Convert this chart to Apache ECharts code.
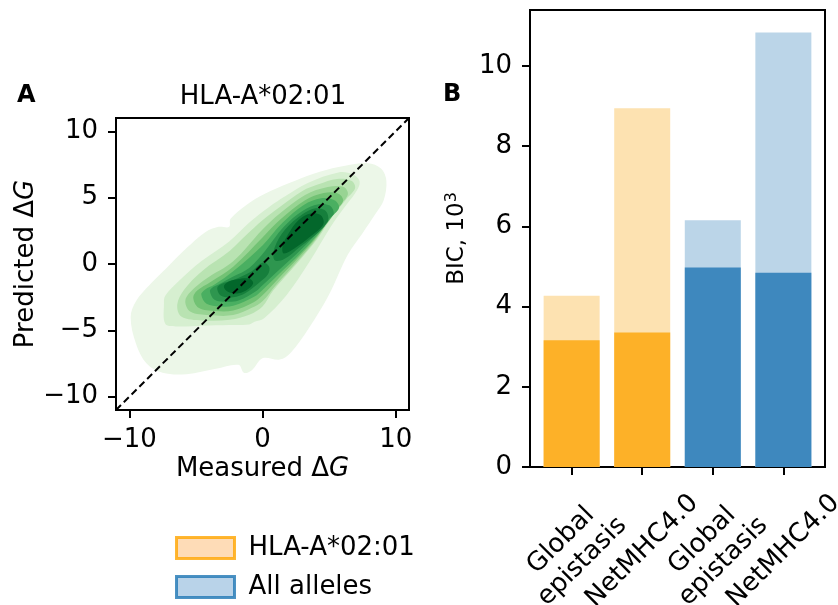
<!DOCTYPE html>
<html><head><meta charset="utf-8">
<script src="https://cdn.jsdelivr.net/npm/echarts@6/dist/echarts.min.js"></script>
<style>html,body{margin:0;padding:0;background:#fff}#c{width:838px;height:605px}</style>
</head><body><div id="c"></div>
<script>
const FONT = 'DejaVu Sans';
// ---------- Panel A data ----------
const rangeA = [-11, 11];
const xTicksA = [-10, 0, 10];
const yTicksA = [-10, -5, 0, 5, 10];
const diagonal = [[-11, -11], [11, 11]];
// KDE contour outlines (data coords), outermost -> innermost
const contourL1 = [[-9.9,-4.0],[-9.5,-6.0],[-8.7,-7.5],[-7.5,-8.2],[-5.7,-8.3],[-3.5,-7.9],[-1.8,-7.6],[-1.4,-8.2],[-0.8,-8.0],[0.0,-7.1],[1.3,-7.2],[2.1,-6.7],[3.5,-4.8],[5.0,-2.3],[6.4,0.7],[7.5,2.3],[8.5,3.8],[9.1,4.8],[9.3,6.3],[8.9,7.2],[7.9,7.6],[6.2,7.4],[4.3,6.95],[2.5,6.3],[0.6,5.5],[-1.0,4.6],[-2.4,3.4],[-2.5,2.8],[-3.3,2.8],[-4.3,2.4],[-5.7,1.2],[-7.2,-0.3],[-8.5,-1.6],[-9.5,-2.8]];
const contourL2 = [[-7.4,-3.0],[-7.3,-4.5],[-6.5,-4.7],[-4.5,-4.65],[-2.5,-4.6],[-1.0,-4.55],[-0.6,-4.35],[0.1,-4.1],[1.8,-2.35],[3.55,0.2],[5.05,2.7],[6.1,4.2],[7.0,5.4],[7.3,6.2],[6.8,6.75],[5.7,6.9],[3.4,6.1],[1.7,5.1],[0.5,4.3],[-0.9,3.2],[-2.5,1.7],[-4.6,0.2],[-6.3,-1.3],[-7.3,-2.4]];
const contourL3 = [[-6.4,-3.05],[-6.1,-3.95],[-4.5,-4.25],[-2.45,-4.2],[-0.95,-3.8],[0.0,-3.2],[0.8,-2.0],[2.55,0.0],[4.05,1.8],[5.2,3.5],[6.3,4.9],[6.95,5.7],[6.7,6.25],[5.6,6.4],[4.2,6.0],[3.0,5.5],[1.3,4.3],[0.0,3.3],[-1.2,2.2],[-2.45,1.0],[-4.5,-0.5],[-5.9,-1.95]];
const contourL4 = [[-5.8,-2.8],[-5.4,-3.6],[-4.0,-3.85],[-2.2,-3.85],[-0.8,-3.3],[0.0,-2.8],[1.0,-1.6],[2.7,0.3],[4.1,2.0],[5.4,4.0],[6.4,5.2],[6.1,5.8],[4.9,5.8],[3.2,5.2],[1.3,3.8],[0.0,2.6],[-2.2,0.2],[-4.2,-1.1],[-5.4,-2.1]];
const contourL5 = [[-5.2,-2.55],[-4.8,-3.3],[-3.5,-3.55],[-2.2,-3.5],[-0.7,-2.9],[0.0,-2.35],[1.1,-1.2],[2.8,0.6],[4.2,2.2],[5.3,3.8],[6.05,4.75],[5.7,5.3],[4.6,5.35],[3.2,4.8],[1.4,3.4],[0.0,2.0],[-2.2,-0.2],[-3.9,-1.35],[-4.9,-2.0]];
const contourL6 = [[-4.6,-2.3],[-4.2,-3.0],[-3.2,-3.2],[-2.2,-3.15],[-0.6,-2.45],[0.0,-1.95],[1.2,-0.8],[2.9,0.85],[4.3,2.4],[5.2,3.55],[5.75,4.25],[5.4,4.8],[4.4,4.95],[3.1,4.45],[1.5,3.1],[0.0,1.4],[-2.2,-0.55],[-3.6,-1.55],[-4.35,-1.95]];
const contourL7 = [[-3.95,-2.05],[-3.6,-2.7],[-2.7,-2.85],[-1.8,-2.75],[-0.5,-2.05],[0.0,-1.6],[1.3,-0.4],[2.9,1.1],[4.3,2.55],[4.95,3.35],[5.35,3.8],[5.05,4.4],[4.2,4.5],[3.0,4.0],[1.6,2.8],[0.2,1.0],[-1.0,-0.3],[-2.2,-0.95],[-3.3,-1.55],[-3.8,-1.8]];
const contourL8a = [[-3.4,-1.8],[-3.1,-2.4],[-2.2,-2.5],[-1.3,-2.2],[-0.3,-1.45],[0.4,-0.8],[0.5,-0.2],[0.0,0.1],[-0.9,-0.6],[-2.2,-1.2],[-3.1,-1.5]];
const contourL8b = [[0.9,0.3],[1.6,0.35],[2.9,1.35],[4.2,2.4],[4.75,3.0],[4.95,3.35],[4.75,4.0],[4.0,4.2],[3.0,3.75],[1.7,2.6],[0.9,1.2]];
const contourL9a = [[-2.9,-1.7],[-2.6,-2.1],[-1.8,-2.2],[-1.1,-1.9],[-0.7,-1.45],[-1.0,-1.1],[-1.9,-1.15],[-2.6,-1.35]];
const contourL9b = [[1.6,0.8],[2.5,1.25],[3.5,2.0],[4.35,2.7],[4.6,3.15],[4.35,3.7],[3.6,3.8],[2.7,3.3],[1.9,2.2],[1.5,1.3]];
const contourLevelOf = [0, 1, 2, 3, 4, 5, 6, 7, 7, 8, 8];

// ---------- Panel B data ----------
const categoriesB = ['Global\nepistasis', 'NetMHC4.0', 'Global\nepistasis', 'NetMHC4.0'];
const bicTotal = [4.27, 8.94, 6.15, 10.83];
const bicLower = [3.16, 3.35, 4.97, 4.84];
const yTicksB = [0, 2, 4, 6, 8, 10];
const legendNames = ['HLA-A*02:01', 'All alleles'];

// ---------- styles ----------
const greens = ['#ecf7e8','#d6efd0','#b9e3b2','#98d493','#72c274','#4aaf61','#2e964f','#167f3c','#03672b'];
const lightCols = ['#fde2b1','#fde2b1','#bbd5e8','#bbd5e8'];
const darkCols = ['#fdb128','#fdb128','#3e88be','#3e88be'];

const contours = [contourL1, contourL2, contourL3, contourL4, contourL5, contourL6, contourL7, contourL8a, contourL8b, contourL9a, contourL9b];
const minus = v => (v < 0 ? '\u2212' + Math.abs(v) : String(v));
const FS = 26;
const axisCommon = {
  axisLine: {show: true, onZero: false, lineStyle: {color: '#000', width: 2}},
  splitLine: {show: false},
};
const chart = echarts.init(document.getElementById('c'), null, {renderer: 'canvas'});
chart.setOption({
  animation: false,
  backgroundColor: '#fff',
  textStyle: {fontFamily: FONT, color: '#000'},
  grid: [
    {left: 116, top: 118, width: 293, height: 292, show: true, borderColor: '#000', borderWidth: 2, backgroundColor: 'transparent', containLabel: false, outerBoundsMode: 'none'},
    {left: 530, top: 10, width: 295, height: 457, show: true, borderColor: '#000', borderWidth: 2, backgroundColor: 'transparent', containLabel: false, outerBoundsMode: 'none'}
  ],
  xAxis: [
    Object.assign({}, axisCommon, {gridIndex: 0, type: 'value', min: rangeA[0], max: rangeA[1],
      axisTick: {show: true, length: 8, lineStyle: {color: '#000', width: 2}, customValues: xTicksA},
      axisLabel: {customValues: xTicksA, formatter: minus, fontSize: FS, color: '#000', fontFamily: FONT, margin: 17},
      name: 'Measured \u0394{i|G}', nameLocation: 'middle', nameGap: 46,
      nameTextStyle: {fontSize: FS, color: '#000', fontFamily: FONT, rich: {i: {fontStyle: 'italic', fontSize: FS, fontFamily: FONT}}}}),
    Object.assign({}, axisCommon, {gridIndex: 1, type: 'value', min: -0.59, max: 3.59,
      axisTick: {show: true, length: 8, lineStyle: {color: '#000', width: 2}, customValues: [0, 1, 2, 3]},
      axisLabel: {customValues: [0, 1, 2, 3], formatter: v => categoriesB[Math.round(v)], rotate: 45,
        align: 'center', verticalAlign: 'middle', margin: 84, fontSize: FS, lineHeight: 30, color: '#000', fontFamily: FONT}})
  ],
  yAxis: [
    Object.assign({}, axisCommon, {gridIndex: 0, type: 'value', min: rangeA[0], max: rangeA[1],
      axisTick: {show: true, length: 8, lineStyle: {color: '#000', width: 2}, customValues: yTicksA},
      axisLabel: {customValues: yTicksA, formatter: minus, fontSize: FS, color: '#000', fontFamily: FONT, margin: 18},
      name: 'Predicted \u0394{i|G}', nameLocation: 'middle', nameGap: 72,
      nameTextStyle: {fontSize: FS, color: '#000', fontFamily: FONT, rich: {i: {fontStyle: 'italic', fontSize: FS, fontFamily: FONT}}}}),
    Object.assign({}, axisCommon, {gridIndex: 1, type: 'value', min: 0, max: 11.39,
      axisTick: {show: true, length: 8, lineStyle: {color: '#000', width: 2}, customValues: yTicksB},
      axisLabel: {customValues: yTicksB, formatter: v => String(v), fontSize: FS, color: '#000', fontFamily: FONT, margin: 18},
      name: 'BIC, 10{sup|3}', nameLocation: 'middle', nameGap: 60,
      nameTextStyle: {fontSize: 23, color: '#000', fontFamily: FONT,
        rich: {sup: {fontSize: 16, fontFamily: FONT, verticalAlign: 'top', padding: [0, 0, 10, 0]}}}})
  ],
  legend: {
    orient: 'vertical', left: 170, top: 530, itemWidth: 58, itemHeight: 21, itemGap: 13,
    textStyle: {fontSize: FS, color: '#000', fontFamily: FONT, padding: [0, 0, 0, 9]},
    data: [
      {name: legendNames[0], icon: 'rect', itemStyle: {color: '#fed3a5', borderColor: '#ffa500', borderWidth: 3}},
      {name: legendNames[1], icon: 'rect', itemStyle: {color: '#a8c8e3', borderColor: '#1f77b4', borderWidth: 3}}
    ]
  },
  graphic: [
    {type: 'text', left: 17, top: 84, style: {text: 'A', font: 'bold 24px "DejaVu Sans"', fill: '#000'}},
    {type: 'text', left: 443, top: 83, style: {text: 'B', font: 'bold 24px "DejaVu Sans"', fill: '#000'}},
    {type: 'text', x: 263, y: 97, style: {text: 'HLA-A*02:01', font: FS + 'px "DejaVu Sans"', fill: '#000', align: 'center', verticalAlign: 'middle'}}
  ],
  series: [
    {type: 'custom', xAxisIndex: 0, yAxisIndex: 0, silent: true, clip: true,
      data: contours.map((p, i) => [p[0][0], p[0][1], i]),
      encode: {x: 0, y: 1},
      renderItem: function (params, api) {
        const idx = api.value(2);
        const pts = contours[idx].map(p => api.coord(p));
        return {type: 'polygon', shape: {points: pts, smooth: 0.35}, style: {fill: greens[contourLevelOf[idx]], stroke: null}};
      }},
    {type: 'line', xAxisIndex: 0, yAxisIndex: 0, data: diagonal, symbol: 'none', silent: true, z: 5,
      lineStyle: {color: '#000', width: 2, type: [7, 4]}},
    {type: 'bar', name: 'total', xAxisIndex: 1, yAxisIndex: 1, barWidth: 56, barGap: '-100%',
      data: bicTotal.map((v, i) => ({value: [i, v], itemStyle: {color: lightCols[i]}}))},
    {type: 'bar', name: 'lower', xAxisIndex: 1, yAxisIndex: 1, barWidth: 56, barGap: '-100%',
      data: bicLower.map((v, i) => ({value: [i, v], itemStyle: {color: darkCols[i]}}))},
    {type: 'scatter', name: legendNames[0], xAxisIndex: 0, yAxisIndex: 0, data: [], itemStyle: {color: '#fed3a5'}},
    {type: 'scatter', name: legendNames[1], xAxisIndex: 0, yAxisIndex: 0, data: [], itemStyle: {color: '#a8c8e3'}}
  ]
});
</script></body></html>
